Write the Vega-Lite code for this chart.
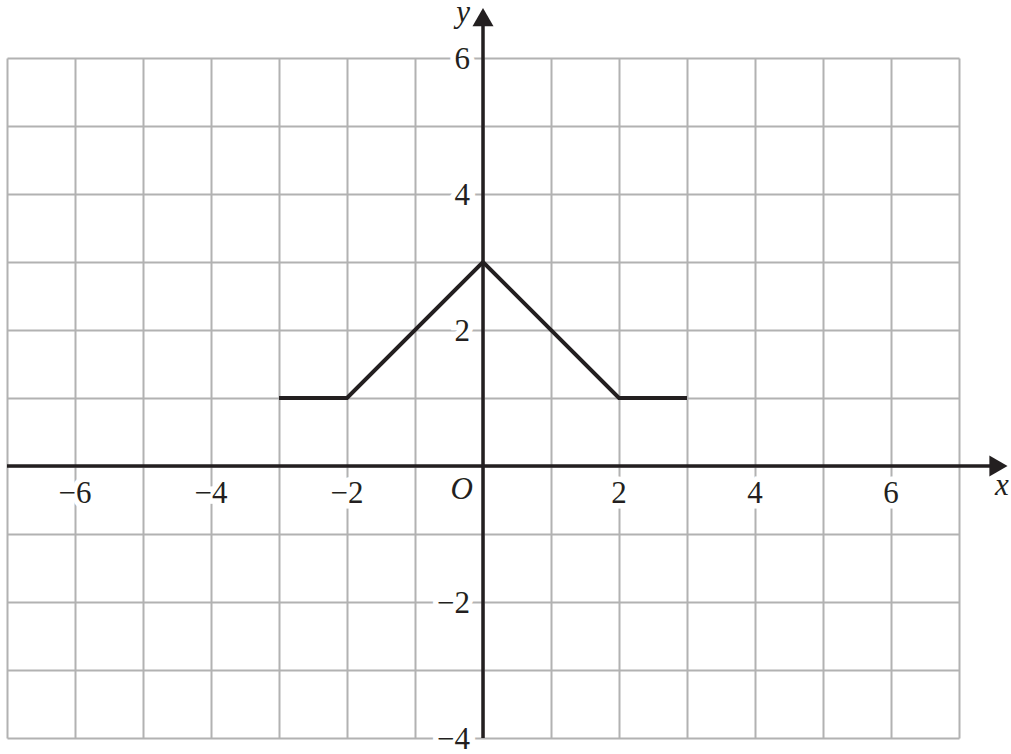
{
  "$schema": "https://vega.github.io/schema/vega-lite/v6.json",
  "width": 952,
  "height": 680,
  "autosize": {"type": "none"},
  "padding": {"left": 7, "top": 58, "right": 52, "bottom": 16},
  "background": "white",
  "config": {"view": {"stroke": null}},
  "datasets": {
    "curve": [
      {"x": -3, "y": 1},
      {"x": -2, "y": 1},
      {"x": 0, "y": 3},
      {"x": 2, "y": 1},
      {"x": 3, "y": 1}
    ],
    "xticks": [
      {"x": -6, "y": 0, "label": "−6"},
      {"x": -4, "y": 0, "label": "−4"},
      {"x": -2, "y": 0, "label": "−2"},
      {"x": 2, "y": 0, "label": "2"},
      {"x": 4, "y": 0, "label": "4"},
      {"x": 6, "y": 0, "label": "6"}
    ],
    "yticks": [
      {"x": 0, "y": 6, "label": "6"},
      {"x": 0, "y": 4, "label": "4"},
      {"x": 0, "y": 2, "label": "2"},
      {"x": 0, "y": -2, "label": "−2"},
      {"x": 0, "y": -4, "label": "−4"}
    ],
    "one": [{}]
  },
  "layer": [
    {
      "data": {"name": "curve"},
      "mark": {"type": "line", "strokeWidth": 0, "opacity": 0},
      "encoding": {
        "x": {
          "field": "x", "type": "quantitative",
          "scale": {"domain": [-7, 7], "nice": false, "zero": false},
          "axis": {"grid": true, "zindex": 0, "values": [-7,-6,-5,-4,-3,-2,-1,0,1,2,3,4,5,6,7], "gridColor": "#b2b2b2", "gridWidth": 2, "gridOpacity": 1, "domain": false, "ticks": false, "labels": false, "title": null}
        },
        "y": {
          "field": "y", "type": "quantitative",
          "scale": {"domain": [-4, 6], "nice": false, "zero": false},
          "axis": {"grid": true, "zindex": 0, "values": [-4,-3,-2,-1,0,1,2,3,4,5,6], "gridColor": "#b2b2b2", "gridWidth": 2, "gridOpacity": 1, "domain": false, "ticks": false, "labels": false, "title": null}
        }
      }
    },
    {
      "data": {"name": "xticks"},
      "encoding": {
        "x": {"field": "x", "type": "quantitative", "scale": {"domain": [-7, 7]}},
        "y": {"field": "y", "type": "quantitative", "scale": {"domain": [-4, 6]}},
        "text": {"field": "label"}
      },
      "layer": [
        {"mark": {"type": "text", "font": "Liberation Serif", "fontSize": 31, "align": "center", "baseline": "alphabetic", "dy": 37, "stroke": "white", "strokeWidth": 11, "strokeOpacity": 1, "fill": "white"}},
        {"mark": {"type": "text", "font": "Liberation Serif", "fontSize": 31, "align": "center", "baseline": "alphabetic", "dy": 37, "fill": "#231f20"}}
      ]
    },
    {
      "data": {"name": "yticks"},
      "encoding": {
        "x": {"field": "x", "type": "quantitative", "scale": {"domain": [-7, 7]}},
        "y": {"field": "y", "type": "quantitative", "scale": {"domain": [-4, 6]}},
        "text": {"field": "label"}
      },
      "layer": [
        {"mark": {"type": "text", "font": "Liberation Serif", "fontSize": 31, "align": "right", "baseline": "middle", "dx": -13, "dy": 2, "stroke": "white", "strokeWidth": 11, "strokeOpacity": 1, "fill": "white"}},
        {"mark": {"type": "text", "font": "Liberation Serif", "fontSize": 31, "align": "right", "baseline": "middle", "dx": -13, "dy": 2, "fill": "#231f20"}}
      ]
    },
    {
      "data": {"name": "one"},
      "mark": {"type": "rule", "color": "#231f20", "strokeWidth": 3.5, "clip": false},
      "encoding": {
        "x": {"datum": -7, "type": "quantitative", "scale": {"domain": [-7, 7]}},
        "x2": {"datum": 7.46},
        "y": {"datum": 0, "type": "quantitative", "scale": {"domain": [-4, 6]}}
      }
    },
    {
      "data": {"name": "one"},
      "mark": {"type": "rule", "color": "#231f20", "strokeWidth": 3.5, "clip": false},
      "encoding": {
        "x": {"datum": 0, "type": "quantitative", "scale": {"domain": [-7, 7]}},
        "y": {"datum": -4, "type": "quantitative", "scale": {"domain": [-4, 6]}},
        "y2": {"datum": 6.49}
      }
    },
    {
      "data": {"name": "one"},
      "mark": {"type": "point", "shape": "triangle-right", "filled": true, "size": 441, "color": "#231f20", "opacity": 1, "clip": false},
      "encoding": {
        "x": {"datum": 7.58, "type": "quantitative", "scale": {"domain": [-7, 7]}},
        "y": {"datum": 0, "type": "quantitative", "scale": {"domain": [-4, 6]}}
      }
    },
    {
      "data": {"name": "one"},
      "mark": {"type": "point", "shape": "triangle-up", "filled": true, "size": 441, "color": "#231f20", "opacity": 1, "clip": false},
      "encoding": {
        "x": {"datum": 0, "type": "quantitative", "scale": {"domain": [-7, 7]}},
        "y": {"datum": 6.6, "type": "quantitative", "scale": {"domain": [-4, 6]}}
      }
    },
    {
      "data": {"name": "curve"},
      "mark": {"type": "line", "color": "#231f20", "strokeWidth": 4, "strokeJoin": "miter"},
      "encoding": {
        "x": {"field": "x", "type": "quantitative", "scale": {"domain": [-7, 7]}},
        "y": {"field": "y", "type": "quantitative", "scale": {"domain": [-4, 6]}}
      }
    },
    {
      "data": {"name": "one"},
      "mark": {"type": "text", "text": "O", "font": "Liberation Serif", "fontSize": 31, "fontStyle": "italic", "align": "right", "baseline": "alphabetic", "dx": -10, "dy": 33, "fill": "#231f20", "clip": false},
      "encoding": {
        "x": {"datum": 0, "type": "quantitative", "scale": {"domain": [-7, 7]}},
        "y": {"datum": 0, "type": "quantitative", "scale": {"domain": [-4, 6]}}
      }
    },
    {
      "data": {"name": "one"},
      "mark": {"type": "text", "text": "x", "font": "Liberation Serif", "fontSize": 31, "fontStyle": "italic", "align": "center", "baseline": "alphabetic", "dy": 29, "fill": "#231f20", "clip": false},
      "encoding": {
        "x": {"datum": 7.63, "type": "quantitative", "scale": {"domain": [-7, 7]}},
        "y": {"datum": 0, "type": "quantitative", "scale": {"domain": [-4, 6]}}
      }
    },
    {
      "data": {"name": "one"},
      "mark": {"type": "text", "text": "y", "font": "Liberation Serif", "fontSize": 31, "fontStyle": "italic", "align": "center", "baseline": "alphabetic", "dx": -20, "dy": -36, "fill": "#231f20", "clip": false},
      "encoding": {
        "x": {"datum": 0, "type": "quantitative", "scale": {"domain": [-7, 7]}},
        "y": {"datum": 6, "type": "quantitative", "scale": {"domain": [-4, 6]}}
      }
    }
  ]
}
